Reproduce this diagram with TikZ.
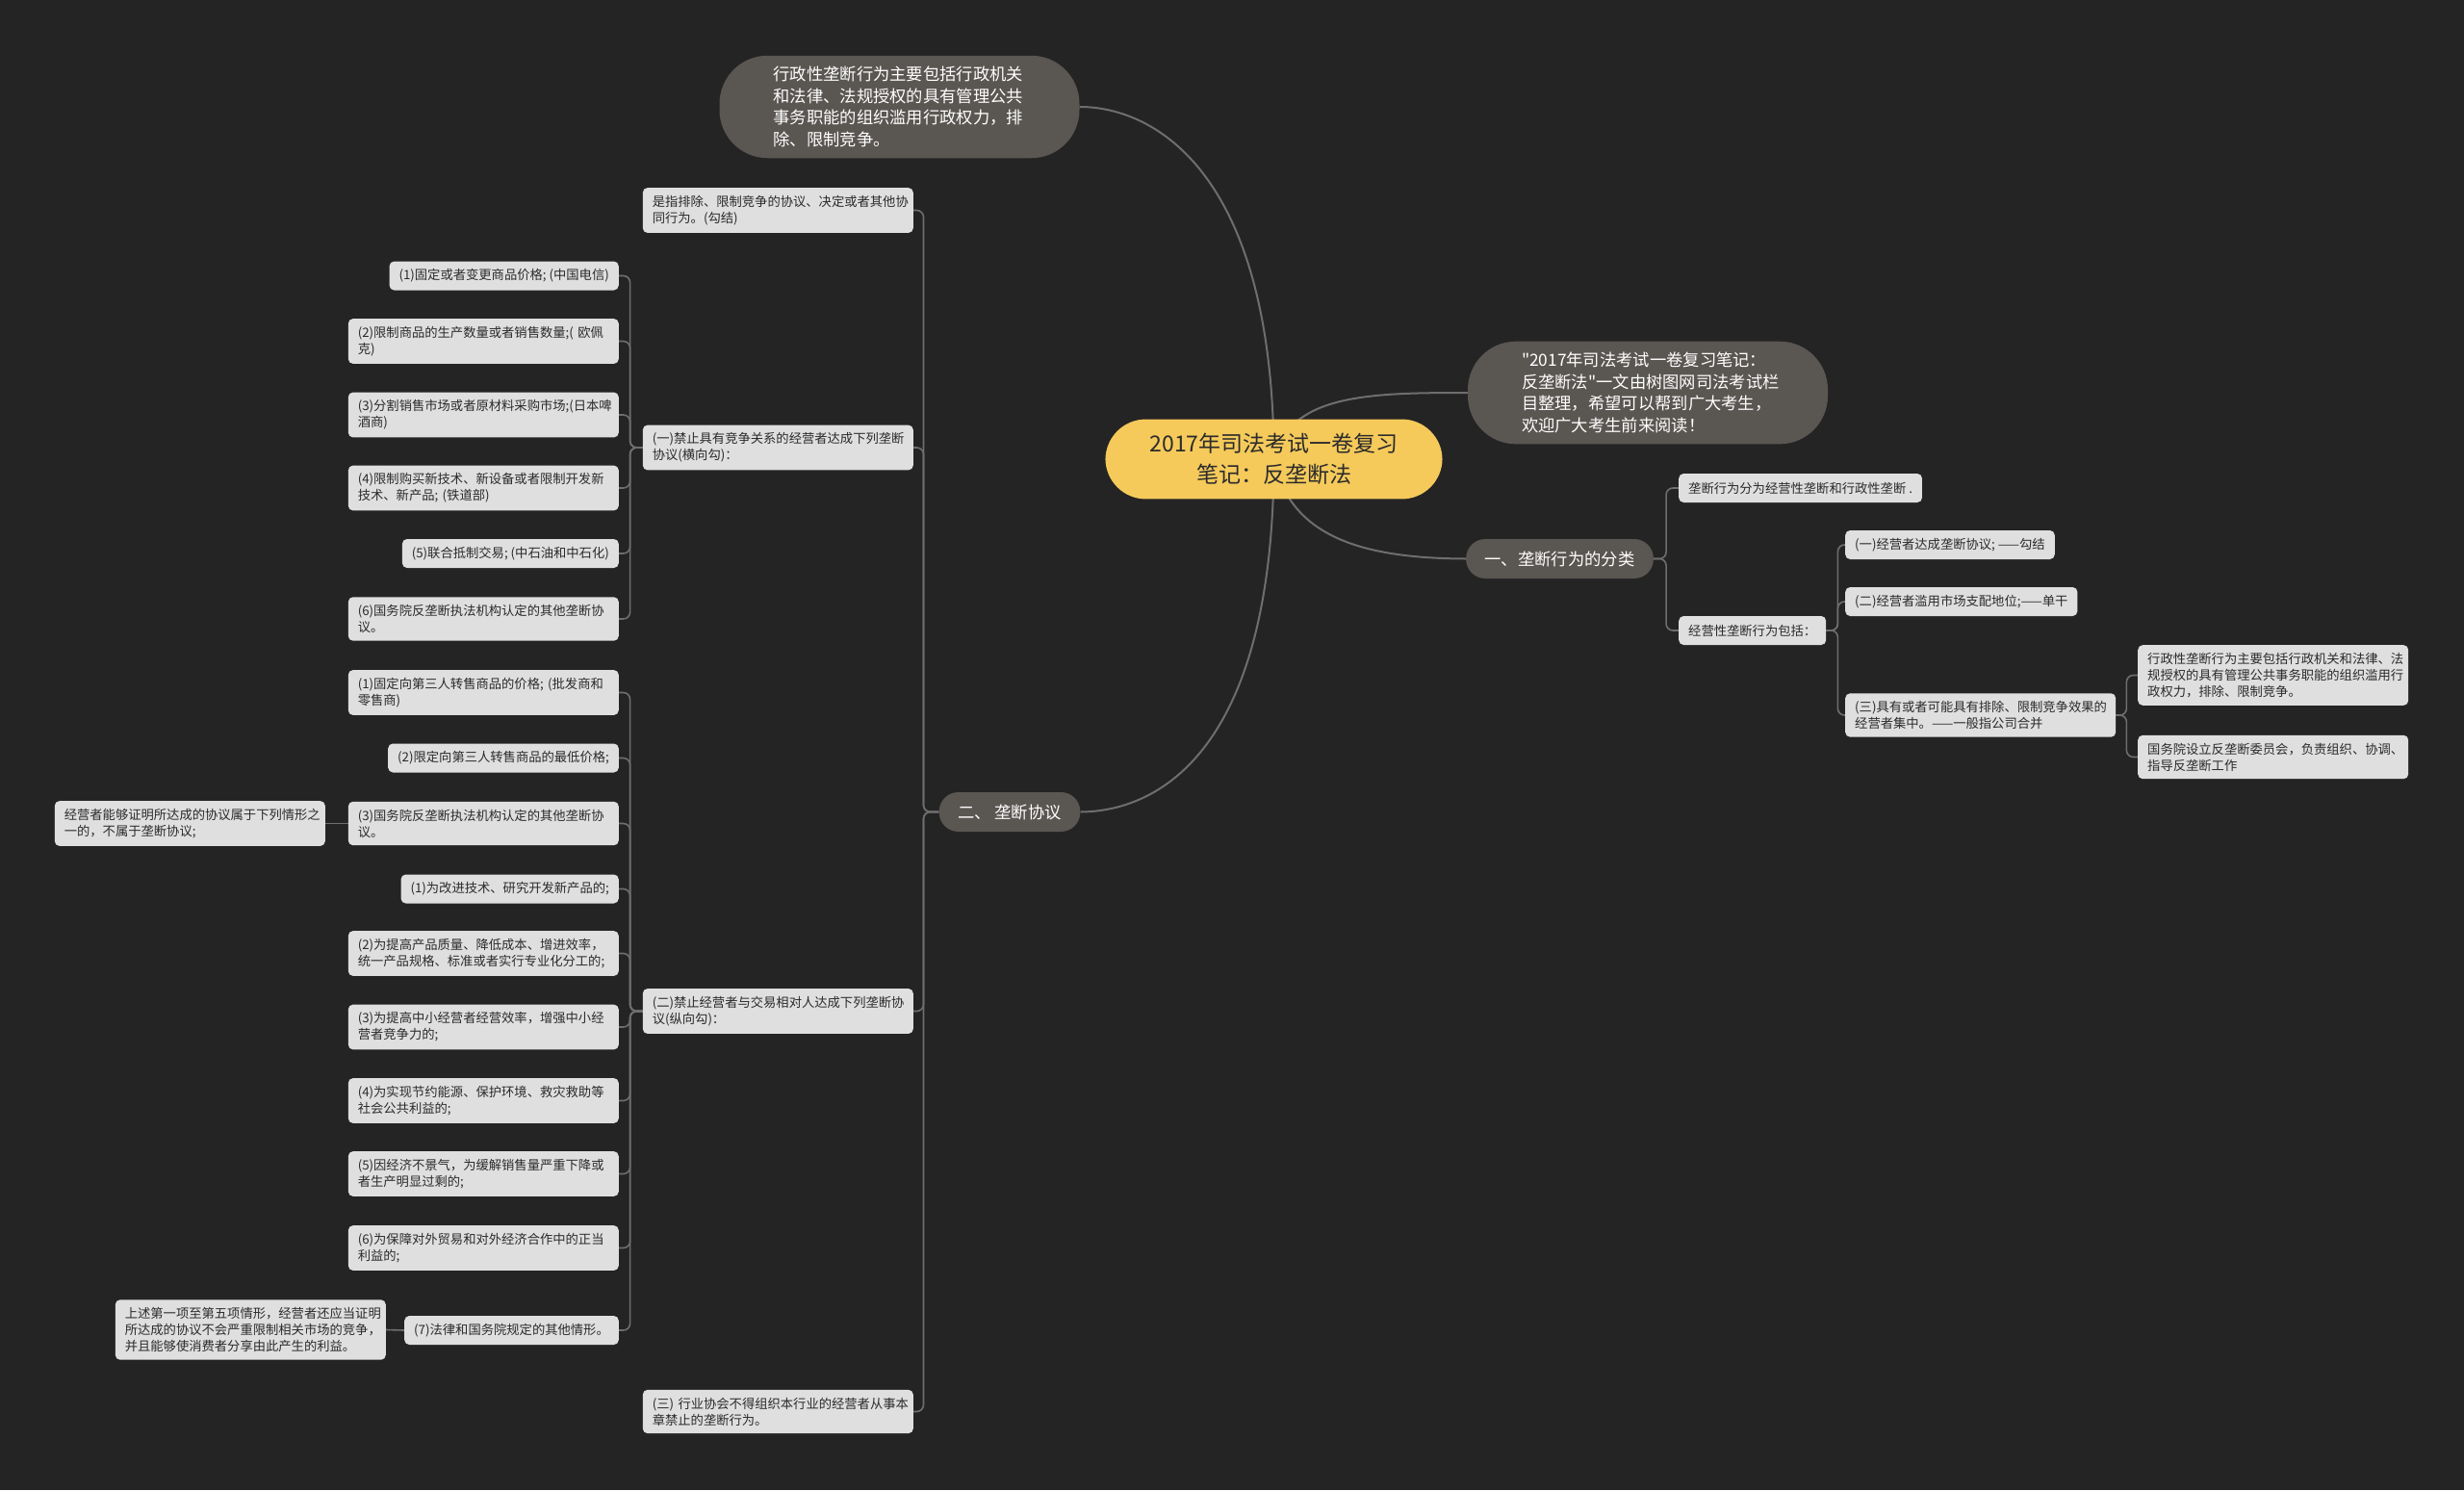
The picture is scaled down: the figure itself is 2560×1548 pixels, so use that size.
\documentclass[tikz,border=0pt]{standalone}
\usepackage{fontspec}
\newfontfamily\cjk{Noto Sans CJK SC}

\definecolor{sfondo}{HTML}{242424}
\definecolor{giallo}{HTML}{F5CA5B}
\definecolor{bollagrigia}{HTML}{5A5652}
\definecolor{grigiochiaro}{HTML}{DFDFDF}
\definecolor{grigioarco}{HTML}{6E6E6E}
\definecolor{testoscuro}{HTML}{2B2B2B}

\pgfdeclarelayer{fondo}
\pgfdeclarelayer{archi}
\pgfsetlayers{fondo,archi,main}

\begin{document}
\begin{tikzpicture}[
    x=1pt,y=-1pt,
    ramo/.style={draw=grigioarco,line width=2pt},
    arco/.style={draw=grigioarco,line width=1.6pt,rounded corners=7pt},
    radice/.style={fill=giallo,text=testoscuro,rounded corners=42pt,inner xsep=46pt,
      inner ysep=15pt,align=center,font=\cjk\fontsize{23}{31.5}\selectfont},
    bolla/.style={fill=bollagrigia,text=white,rounded corners=50pt,inner xsep=56pt,
      inner ysep=11.5pt,text width=262pt,align=left,font=\cjk\fontsize{17.3}{22.5}\selectfont},
    capitolo/.style={fill=bollagrigia,text=white,rounded corners=20pt,inner xsep=19.5pt,
      minimum height=41pt,font=\cjk\fontsize{17.3}{22.5}\selectfont},
    foglia/.style={fill=grigiochiaro,text=testoscuro,rounded corners=5pt,inner xsep=10pt,
      inner ysep=8pt,minimum height=30pt,font=\cjk\fontsize{13.3}{17}\selectfont},
    fogliadue/.style={foglia,text width=261pt,align=left}]

  \useasboundingbox (0,0) rectangle (2560,1548);
  \begin{pgfonlayer}{fondo}
    \fill[sfondo] (0,0) rectangle (2560,1548);
  \end{pgfonlayer}

  % ---- radice e rami principali -----------------------------------------
  \node[radice] (r) at (1323.5,477) {2017年司法考试一卷复习\\笔记：反垄断法};

  \node[bolla] (adm) at (934.5,111)
    {行政性垄断行为主要包括行政机关\\和法律、法规授权的具有管理公共\\事务职能的组织滥用行政权力，排\\除、限制竞争。};
  \node[bolla] (intro) at (1712,408)
    {"2017年司法考试一卷复习笔记：\\反垄断法"一文由树图网司法考试栏\\目整理，希望可以帮到广大考生，\\欢迎广大考生前来阅读！};

  \node[capitolo] (c1) at (1620.5,580.5) {一、垄断行为的分类};
  \node[capitolo] (c2) at (1049,843.5)   {二、 垄断协议};

  % ---- lato destro: classificazione ---------------------------------------
  \node[foglia,anchor=west] (n6) at (1744,507) {垄断行为分为经营性垄断和行政性垄断 .};
  \node[foglia,anchor=west] (n7) at (1744,655) {经营性垄断行为包括：};

  \node[foglia,anchor=west]    (n8)  at (1917,566) {(一)经营者达成垄断协议; ——勾结};
  \node[foglia,anchor=west]    (n9)  at (1917,625) {(二)经营者滥用市场支配地位;——单干};
  \node[fogliadue,anchor=west] (n10) at (1917,743)
    {(三)具有或者可能具有排除、限制竞争效果的\\经营者集中。——一般指公司合并};

  \node[fogliadue,anchor=west] (n11) at (2221,701.5)
    {行政性垄断行为主要包括行政机关和法律、法\\规授权的具有管理公共事务职能的组织滥用行\\政权力，排除、限制竞争。};
  \node[fogliadue,anchor=west] (n12) at (2221,786.5)
    {国务院设立反垄断委员会，负责组织、协调、\\指导反垄断工作};

  % ---- lato sinistro: accordi monopolistici -------------------------------
  \node[fogliadue,anchor=east] (n13) at (949,218.5)
    {是指排除、限制竞争的协议、决定或者其他协\\同行为。(勾结)};
  \node[fogliadue,anchor=east] (n14) at (949,465)
    {(一)禁止具有竞争关系的经营者达成下列垄断\\协议(横向勾)：};
  \node[fogliadue,anchor=east] (n15) at (949,1050.5)
    {(二)禁止经营者与交易相对人达成下列垄断协\\议(纵向勾)：};
  \node[fogliadue,anchor=east] (n16) at (949,1466.5)
    {(三)~行业协会不得组织本行业的经营者从事本\\章禁止的垄断行为。};

  % accordi orizzontali
  \node[foglia,anchor=east]    (a1) at (643,286.5) {(1)固定或者变更商品价格; (中国电信)};
  \node[fogliadue,anchor=east] (a2) at (643,354.5) {(2)限制商品的生产数量或者销售数量;(~欧佩\\克)};
  \node[fogliadue,anchor=east] (a3) at (643,431)   {(3)分割销售市场或者原材料采购市场;(日本啤\\酒商)};
  \node[fogliadue,anchor=east] (a4) at (643,507)   {(4)限制购买新技术、新设备或者限制开发新\\技术、新产品;~(铁道部)};
  \node[foglia,anchor=east]    (a5) at (643,575)   {(5)联合抵制交易; (中石油和中石化)};
  \node[fogliadue,anchor=east] (a6) at (643,643)   {(6)国务院反垄断执法机构认定的其他垄断协\\议。};

  % accordi verticali ed esenzioni
  \node[fogliadue,anchor=east] (b1)  at (643,719.5)  {(1)固定向第三人转售商品的价格;~(批发商和\\零售商)};
  \node[foglia,anchor=east]    (b2)  at (643,787.5)  {(2)限定向第三人转售商品的最低价格;};
  \node[fogliadue,anchor=east] (b3)  at (643,855.5)  {(3)国务院反垄断执法机构认定的其他垄断协\\议。};
  \node[foglia,anchor=east]    (b4)  at (643,923.5)  {(1)为改进技术、研究开发新产品的;};
  \node[fogliadue,anchor=east] (b5)  at (643,990.5)  {(2)为提高产品质量、降低成本、增进效率，\\统一产品规格、标准或者实行专业化分工的;};
  \node[fogliadue,anchor=east] (b6)  at (643,1067)   {(3)为提高中小经营者经营效率，增强中小经\\营者竞争力的;};
  \node[fogliadue,anchor=east] (b7)  at (643,1143.5) {(4)为实现节约能源、保护环境、救灾救助等\\社会公共利益的;};
  \node[fogliadue,anchor=east] (b8)  at (643,1219.5) {(5)因经济不景气，为缓解销售量严重下降或\\者生产明显过剩的;};
  \node[fogliadue,anchor=east] (b9)  at (643,1296.5) {(6)为保障对外贸易和对外经济合作中的正当\\利益的;};
  \node[foglia,anchor=east]    (b10) at (643,1382)   {(7)法律和国务院规定的其他情形。};

  \node[fogliadue,anchor=east] (b3x)  at (338,855.5)
    {经营者能够证明所达成的协议属于下列情形之\\一的，不属于垄断协议;};
  \node[fogliadue,anchor=east] (b10x) at (401,1381.5)
    {上述第一项至第五项情形，经营者还应当证明\\所达成的协议不会严重限制相关市场的竞争，\\并且能够使消费者分享由此产生的利益。};

  % ---- archi --------------------------------------------------------------
  \begin{pgfonlayer}{archi}
    % dalla radice
    \draw[ramo] (r.center) .. controls (1323,180) and (1200,111) .. (adm.east);
    \draw[ramo] (r.center) .. controls (1340,410) and (1420,408) .. (intro.west);
    \draw[ramo] (r.center) .. controls (1340,560) and (1420,580) .. (c1.west);
    \draw[ramo] (r.center) .. controls (1323,785) and (1200,843) .. (c2.east);

    % destra
    \foreach \f in {n6,n7}
      \draw[arco] (c1.east) -- ++(13,0) |- (\f.west);
    \foreach \f in {n8,n9,n10}
      \draw[arco] (n7.east) -- ++(12,0) |- (\f.west);
    \foreach \f in {n11,n12}
      \draw[arco] (n10.east) -- ++(11,0) |- (\f.west);

    % sinistra
    \foreach \f in {n13,n14,n15,n16}
      \draw[arco] (c2.west) -- ++(-16,0) |- (\f.east);
    \foreach \f in {a1,a2,a3,a4,a5,a6}
      \draw[arco] (n14.west) -- ++(-13,0) |- (\f.east);
    \foreach \f in {b1,b2,b3,b4,b5,b6,b7,b8,b9,b10}
      \draw[arco] (n15.west) -- ++(-13,0) |- (\f.east);
    \draw[arco] (b3.west) -- (b3x.east);
    \draw[arco] (b10.west) -- (b10x.east);
  \end{pgfonlayer}

\end{tikzpicture}
\end{document}
